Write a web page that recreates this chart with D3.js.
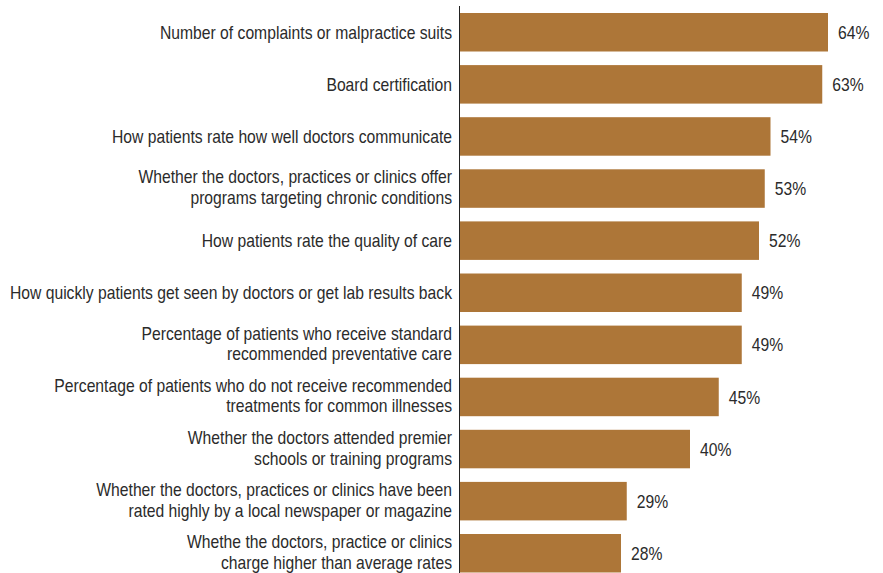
<!DOCTYPE html>
<html>
<head>
<meta charset="utf-8">
<script src="https://cdn.jsdelivr.net/npm/d3@7"></script>
<style>
  body { margin: 0; background: #fff; }
  svg text { font-family: "Liberation Sans", Arial, sans-serif; fill: #2b2b2b; }
</style>
</head>
<body>
<svg id="chart"></svg>
<script>
// Chart values
const labels = [
  ["Number of complaints or malpractice suits"],
  ["Board certification"],
  ["How patients rate how well doctors communicate"],
  ["Whether the doctors, practices or clinics offer", "programs targeting chronic conditions"],
  ["How patients rate the quality of care"],
  ["How quickly patients get seen by doctors or get lab results back"],
  ["Percentage of patients who receive standard", "recommended preventative care"],
  ["Percentage of patients who do not receive recommended", "treatments for common illnesses"],
  ["Whether the doctors attended premier", "schools or training programs"],
  ["Whether the doctors, practices or clinics have been", "rated highly by a local newspaper or magazine"],
  ["Whethe the doctors, practice or clinics", "charge higher than average rates"]
];
const values = [64, 63, 54, 53, 52, 49, 49, 45, 40, 29, 28];

const BAR = '#ad7638';

const width = 883;
const height = 573;
const step = 52.1;
const barH = 38.5;
const topY = 13;
const axisX = 460;
const fs = 18.2;
const lineGap = 20.8;

const svg = d3.select("#chart")
    .attr("width", width)
    .attr("height", height);

const x = d3.scaleLinear()
    .domain([0, 64])
    .range([axisX, 828]);

const y = d3.scaleBand()
    .domain(d3.range(values.length))
    .range([topY, topY + step * (values.length - 1) + barH])
    .paddingInner(1 - barH / step)
    .paddingOuter(0);

// condensed look: squeeze the text horizontally so the longest label fits like the original
const probe = svg.append("text").attr("font-size", fs)
    .text("How quickly patients get seen by doctors or get lab results back");
const sx = 442 / probe.node().getComputedTextLength();
probe.remove();

// bars
svg.append("g")
  .selectAll("rect")
  .data(values)
  .join("rect")
    .attr("x", x(0))
    .attr("y", (d, i) => y(i))
    .attr("width", d => x(d) - x(0))
    .attr("height", y.bandwidth())
    .attr("fill", BAR);

// value labels
svg.append("g")
  .selectAll("text")
  .data(values)
  .join("text")
    .attr("transform", (d, i) => `translate(${x(d) + 10},${y(i) + y.bandwidth() / 2}) scale(${sx},1)`)
    .attr("y", fs * 0.36)
    .attr("font-size", fs)
    .text(d => d + "%");

// category labels
const cat = svg.append("g")
  .selectAll("text")
  .data(labels)
  .join("text")
    .attr("text-anchor", "end")
    .attr("font-size", fs)
    .attr("transform", (d, i) => `translate(452,${y(i) + y.bandwidth() / 2}) scale(${sx},1)`);

cat.selectAll("tspan")
  .data(d => d.map((t, j) => ({t, j, n: d.length})))
  .join("tspan")
    .attr("x", 0)
    .attr("y", d => fs * 0.36 + (d.j - (d.n - 1) / 2) * lineGap - (d.n - 1) * 1.5)
    .text(d => d.t);

// axis line
svg.append("line")
    .attr("x1", axisX - 0.5).attr("x2", axisX - 0.5)
    .attr("y1", 6).attr("y2", height)
    .attr("stroke", "#222")
    .attr("stroke-width", 1);
</script>
</body>
</html>
